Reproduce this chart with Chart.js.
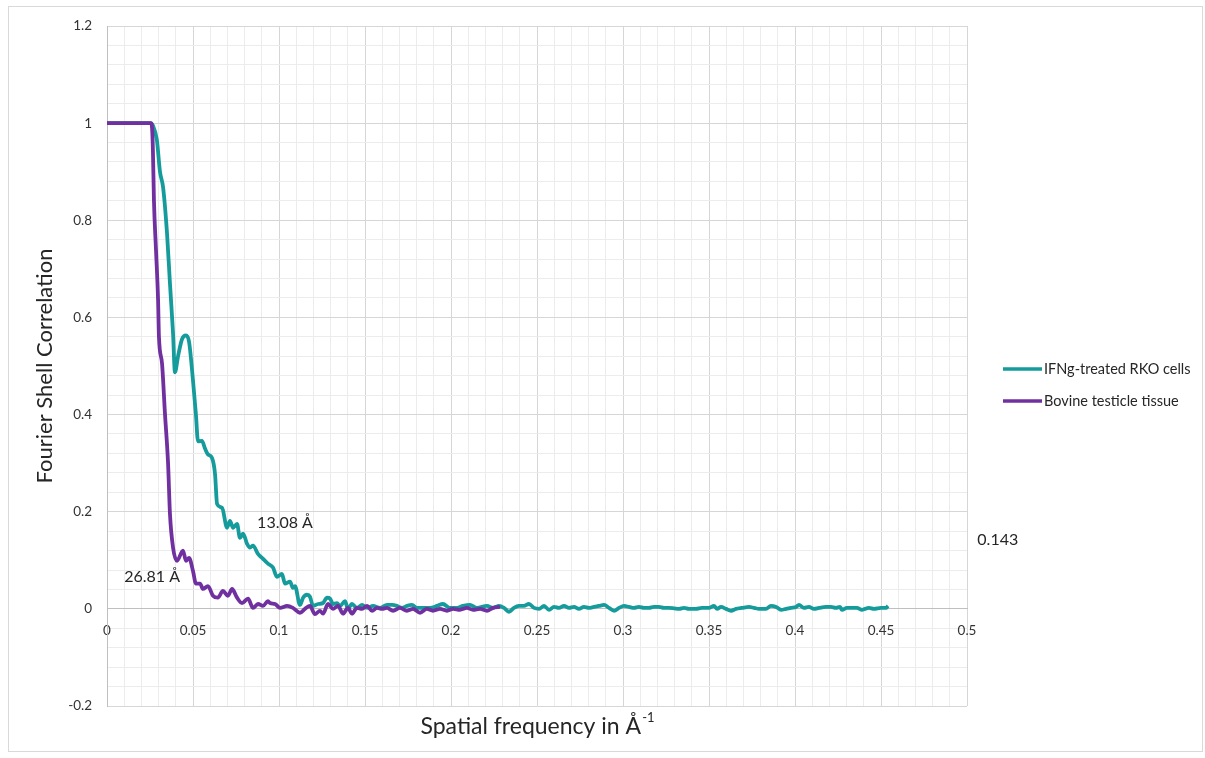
<!DOCTYPE html>
<html>
<head>
<meta charset="utf-8">
<script src="https://cdn.jsdelivr.net/npm/chart.js@4.4.0/dist/chart.umd.min.js"></script>
<style>
html, body { margin: 0; padding: 0; background: #fff; }
</style>
</head>
<body>
<canvas id="fsc" width="1205" height="758"></canvas>
<script>
// --- DATOS ---
// IFNg-treated RKO cells (frecuencia, FSC)
const rkoX = [0, 0.01, 0.02, 0.025, 0.0267, 0.029, 0.0308, 0.0326, 0.0349, 0.0366,
  0.0384, 0.0395, 0.0413, 0.0436, 0.0459, 0.0477, 0.050, 0.0517, 0.0529, 0.0552,
  0.057, 0.0587, 0.061, 0.0628, 0.064, 0.0669, 0.0698, 0.0715, 0.0733, 0.0756,
  0.0773, 0.0791, 0.0814, 0.0831, 0.0849, 0.0878, 0.0901, 0.0919, 0.0936, 0.0965,
  0.0988, 0.1017, 0.1035, 0.1064, 0.1081, 0.1093, 0.1122, 0.114, 0.1163, 0.118,
  0.1198, 0.1227, 0.1256, 0.1279, 0.1297, 0.1314, 0.1337, 0.1355, 0.1384, 0.1401,
  0.1424, 0.1453, 0.1483, 0.1512, 0.1547, 0.1587, 0.1628, 0.1657, 0.1686, 0.1715,
  0.1744, 0.1773, 0.1802, 0.1837, 0.1878, 0.1919, 0.1953, 0.1994, 0.2035, 0.207,
  0.211, 0.2151, 0.2209, 0.2244, 0.2279, 0.2308, 0.2337, 0.2366, 0.2395, 0.2424,
  0.2453, 0.2483, 0.2512, 0.2541, 0.257, 0.2599, 0.2628, 0.2657, 0.2686, 0.2715,
  0.2744, 0.2773, 0.2802, 0.2831, 0.286, 0.289, 0.2919, 0.2948, 0.2977, 0.3006,
  0.3035, 0.3064, 0.3093, 0.3122, 0.3151, 0.318, 0.3209, 0.3238, 0.3267, 0.3297,
  0.3326, 0.3355, 0.3384, 0.3424, 0.3459, 0.35, 0.3529, 0.3547, 0.357, 0.3599,
  0.3628, 0.3657, 0.3692, 0.3733, 0.3762, 0.3791, 0.3831, 0.386, 0.389, 0.3919,
  0.3948, 0.3977, 0.4006, 0.4023, 0.4052, 0.4081, 0.411, 0.414, 0.418, 0.4209,
  0.4238, 0.4262, 0.4273, 0.4302, 0.4331, 0.436, 0.439, 0.443, 0.4459, 0.45,
  0.4529, 0.4541];
const rkoY = [1, 1, 1, 1, 0.995, 0.965, 0.90, 0.868, 0.773, 0.67,
  0.567, 0.487, 0.52, 0.555, 0.563, 0.55, 0.47, 0.40, 0.345, 0.346,
  0.33, 0.318, 0.311, 0.278, 0.216, 0.208, 0.167, 0.181, 0.167, 0.175,
  0.146, 0.155, 0.134, 0.126, 0.13, 0.113, 0.105, 0.099, 0.093, 0.085,
  0.066, 0.072, 0.052, 0.056, 0.043, 0.047, 0.008, 0.023, 0.029, 0.025,
  0.006, 0.010, 0.012, 0.023, 0.021, 0.010, 0.012, 0.006, 0.016, 0.0,
  0.01, 0.002, 0.008, 0.002, 0.006, 0.002, 0.008, 0.008, 0.006, 0.002,
  0.006, 0.008, 0.002, 0.002, 0.002, 0.006, 0.010, 0.002, 0.002, 0.006,
  0.008, 0.002, 0.006, 0.002, 0.006, 0.002, -0.006, 0.002, 0.006, 0.006,
  0.010, 0.002, 0.0, 0.006, -0.002, 0.004, 0.002, 0.006, 0.002, 0.004,
  0.0, 0.004, 0.002, 0.004, 0.006, 0.008, 0.002, -0.004, 0.002, 0.006,
  0.004, 0.002, 0.004, 0.002, 0.002, 0.004, 0.004, 0.002, 0.002, 0.001,
  0.0, 0.002, 0.0, 0.0, 0.002, 0.002, 0.006, 0.0, 0.004, 0.0,
  -0.004, 0.0, 0.002, 0.004, 0.002, 0.0, 0.0, 0.006, 0.004, -0.002,
  0.0, 0.002, 0.004, 0.008, 0.002, 0.004, 0.0, 0.002, 0.004, 0.004,
  0.002, 0.004, -0.002, 0.002, 0.002, 0.002, -0.002, 0.002, 0.0, 0.002,
  0.002, 0.006];

// Bovine testicle tissue
const bovX = [0, 0.01, 0.02, 0.0256, 0.0262, 0.0267, 0.0273, 0.0285, 0.0297, 0.0302,
  0.032, 0.0337, 0.0355, 0.0366, 0.0384, 0.0407, 0.0442, 0.0459, 0.0477, 0.05,
  0.0517, 0.0541, 0.0558, 0.0587, 0.0616, 0.0645, 0.0674, 0.0703, 0.0727, 0.0756,
  0.0785, 0.082, 0.0849, 0.0878, 0.0907, 0.0936, 0.0948, 0.0977, 0.1006, 0.1047,
  0.1081, 0.1122, 0.1151, 0.118, 0.1209, 0.1238, 0.1256, 0.1285, 0.1314, 0.1343,
  0.1372, 0.1401, 0.1424, 0.1453, 0.1483, 0.1512, 0.1541, 0.157, 0.1599, 0.1628,
  0.1663, 0.1703, 0.1744, 0.1779, 0.182, 0.186, 0.1895, 0.1936, 0.1977, 0.2012,
  0.2052, 0.2093, 0.2128, 0.2169, 0.2209, 0.2244, 0.2285];
const bovY = [1, 1, 1, 1, 0.99, 0.944, 0.84, 0.738, 0.635, 0.56,
  0.505, 0.402, 0.30, 0.196, 0.126, 0.099, 0.12, 0.099, 0.105, 0.078,
  0.052, 0.052, 0.041, 0.047, 0.027, 0.023, 0.037, 0.027, 0.041, 0.023,
  0.012, 0.021, 0.002, 0.010, 0.006, 0.016, 0.012, 0.01, 0.002, 0.006,
  0.002, -0.008, 0.0, 0.006, -0.011, -0.004, -0.01, 0.01, 0.0, 0.006,
  -0.01, 0.002, -0.01, 0.002, 0.0, 0.006, -0.004, 0.002, 0.0, 0.002,
  -0.004, 0.002, -0.004, 0.0, -0.008, 0.0, -0.004, 0.0, -0.004, 0.0,
  -0.002, 0.002, -0.002, 0.0, -0.004, 0.002, 0.004];

const seriesNames = ['IFNg-treated RKO cells', 'Bovine testicle tissue'];
const seriesColors = ['#159b9b', '#7030a0'];

const xTicks = [0, 0.05, 0.1, 0.15, 0.2, 0.25, 0.3, 0.35, 0.4, 0.45, 0.5];
const yTicks = [-0.2, 0, 0.2, 0.4, 0.6, 0.8, 1, 1.2];

// etiquetas sueltas (texto, x, y en unidades de datos)
const noteText = ['13.08 Å', '26.81 Å', '0.143'];
const noteX = [0.1035, 0.0262, 0.506];
const noteY = [0.177, 0.066, 0.143];

const FONT = 'Lato, "Noto Sans", sans-serif';
const INK = '#333333';

function toPoints(xs, ys) {
  return xs.map((x, i) => ({ x: x, y: ys[i] }));
}

function inList(list, v) {
  return list.find(t => Math.abs(t - v) < 1e-6);
}

function tickLabel(list) {
  return function (value) {
    const hit = inList(list, value);
    return hit === undefined ? '' : String(hit);
  };
}

function gridColor(list) {
  return function (ctx) {
    if (!ctx.tick) return '#ececec';
    return inList(list, ctx.tick.value) === undefined ? '#ececec' : '#d6d6d6';
  };
}

// --- DIBUJO EXTRA: marco, titulo eje x, notas y leyenda ---
const extras = {
  id: 'extras',
  afterDraw(chart) {
    const { ctx, chartArea, scales } = chart;
    ctx.save();

    ctx.strokeStyle = '#d9d9d9';
    ctx.lineWidth = 1;
    ctx.strokeRect(8.5, 6.5, 1194, 745);

    // titulo eje x con superindice
    const main = 'Spatial frequency in Å';
    ctx.font = '23px ' + FONT;
    const w1 = ctx.measureText(main).width;
    ctx.font = '13px ' + FONT;
    const w2 = ctx.measureText('-1').width;
    const start = (chartArea.left + chartArea.right) / 2 - (w1 + w2) / 2;
    ctx.fillStyle = '#262626';
    ctx.textAlign = 'left';
    ctx.textBaseline = 'alphabetic';
    ctx.font = '23px ' + FONT;
    ctx.fillText(main, start, 734);
    ctx.font = '13px ' + FONT;
    ctx.fillText('-1', start + w1 + 1, 722);

    // notas
    ctx.font = '16px ' + FONT;
    ctx.fillStyle = '#262626';
    ctx.textBaseline = 'middle';
    noteText.forEach((t, i) => {
      const px = scales.x.getPixelForValue(noteX[i]);
      const py = scales.y.getPixelForValue(noteY[i]);
      ctx.textAlign = noteX[i] > 0.5 ? 'left' : 'center';
      ctx.fillText(t, px, py);
    });

    // leyenda
    ctx.font = '14.5px ' + FONT;
    ctx.textAlign = 'left';
    chart.data.datasets.forEach((ds, i) => {
      const ly = 369 + i * 32;
      ctx.strokeStyle = ds.borderColor;
      ctx.lineWidth = 3.5;
      ctx.beginPath();
      ctx.moveTo(1003, ly);
      ctx.lineTo(1042, ly);
      ctx.stroke();
      ctx.fillStyle = '#262626';
      ctx.fillText(ds.label, 1044, ly);
    });

    ctx.restore();
  }
};

const ctx = document.getElementById('fsc').getContext('2d');
const fscChart = new Chart(ctx, {
  type: 'line',
  data: {
    datasets: [
      { label: seriesNames[0], data: toPoints(rkoX, rkoY), borderColor: seriesColors[0],
        borderWidth: 3.8, pointRadius: 0, cubicInterpolationMode: 'monotone', order: 1 },
      { label: seriesNames[1], data: toPoints(bovX, bovY), borderColor: seriesColors[1],
        borderWidth: 3.8, pointRadius: 0, cubicInterpolationMode: 'monotone', order: 0 }
    ]
  },
  plugins: [extras],
  options: {
    responsive: false,
    animation: false,
    layout: { padding: { left: 8, top: 26, right: 238, bottom: 52 } },
    plugins: { legend: { display: false }, tooltip: { enabled: false } },
    scales: {
      x: {
        type: 'linear', min: 0, max: 0.5,
        position: { y: 0 },
        ticks: { stepSize: 0.01, autoSkip: false, maxRotation: 0, minRotation: 0,
          padding: 14, color: INK, font: { family: FONT, size: 13.5 },
          callback: tickLabel(xTicks) },
        grid: { color: gridColor(xTicks), drawTicks: false },
        border: { color: '#bfbfbf' }
      },
      y: {
        min: -0.2, max: 1.2,
        ticks: { stepSize: 0.04, autoSkip: false, padding: 15, color: INK,
          font: { family: FONT, size: 13.5 }, callback: tickLabel(yTicks) },
        grid: { color: gridColor(yTicks), drawTicks: false },
        border: { color: '#bfbfbf' },
        title: { display: true, text: 'Fourier Shell Correlation', color: '#262626',
          font: { family: FONT, size: 22 }, padding: { top: 24, bottom: 0 } },
        afterFit: s => { s.width = 99; }
      }
    }
  }
});
</script>
</body>
</html>
